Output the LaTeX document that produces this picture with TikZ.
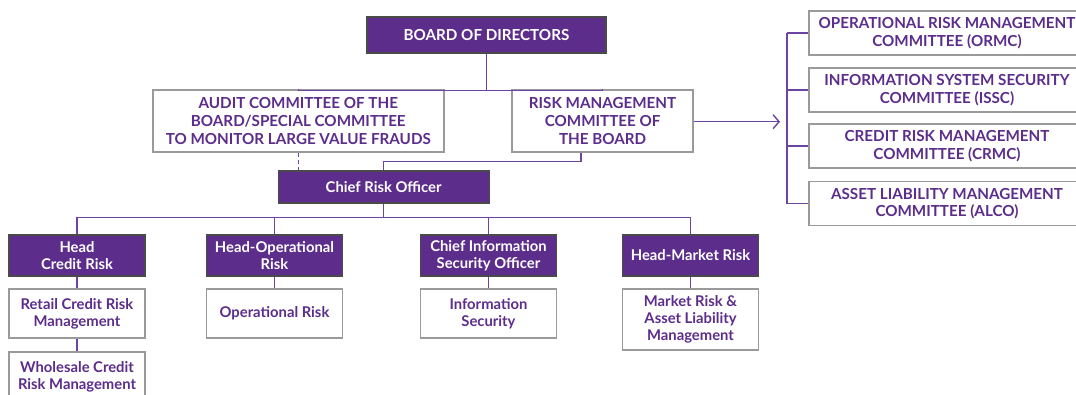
\documentclass[tikz,border=0pt]{standalone}
\usepackage{fontspec}
\setmainfont{Lato}
\usetikzlibrary{arrows.meta}
\definecolor{riskpurple}{HTML}{5C2D8B}
\definecolor{linkpurple}{HTML}{6E44A2}
\definecolor{framegray}{HTML}{9A9A9A}
\definecolor{darkframe}{HTML}{4A4A4A}
\tikzstyle{head}=[rectangle, draw=darkframe, fill=riskpurple
,text=white, font=\bfseries\fontsize{14.8}{17}\selectfont
,line width=1.2pt, align=center, inner sep=0pt
]
\tikzstyle{unit}=[rectangle, draw=framegray, fill=white
,text=riskpurple, font=\bfseries\fontsize{14.8}{16.7}\selectfont
,line width=1.5pt, align=center, inner sep=0pt
]
\tikzstyle{caps}=[font=\bfseries\fontsize{15.2}{17.6}\selectfont]
\tikzstyle{link} = [draw=linkpurple, line width=1.3pt]

\begin{document}
\begin{tikzpicture}[x=1pt, y=-1pt]
    \useasboundingbox (0,0) rectangle (1076,394);
    % Board and its two committees
    \node[head, caps, minimum width=239pt, minimum height=36pt] (board) at (486.5,35) {BOARD OF DIRECTORS};
    \node[unit, caps, minimum width=291pt, minimum height=62pt] (audit) at (298.3,121)
        {AUDIT COMMITTEE OF THE\\BOARD/SPECIAL COMMITTEE\\TO MONITOR LARGE VALUE FRAUDS};
    \node[unit, caps, minimum width=181pt, minimum height=62pt] (rmc) at (602.6,121)
        {RISK MANAGEMENT\\COMMITTEE OF\\THE BOARD};
    \node[head, minimum width=211pt, minimum height=32pt] (cro) at (383.6,187) {Chief Risk Officer};

    % Heads under the CRO
    \foreach \pos/\name/\text in {{(77,255.5)/hcr/Head\\Credit Risk}, {(274.5,255.5)/hor/Head-Operational\\Risk},
        {(488.5,255.5)/ciso/Chief Information\\Security Officer}, {(690.5,255.5)/hmr/Head-Market Risk}}
        \node[head, minimum width=136pt, minimum height=41pt] (\name) at \pos {\text};

    % Functions under each head
    \foreach \pos/\name/\text/\h in {{(77,313.5)/rcr/Retail Credit Risk\\Management/49}, {(77,376.5)/wcr/Wholesale Credit\\Risk Management/49},
        {(274.5,313.5)/opr/Operational Risk/49}, {(488.5,313.5)/isec/Information\\Security/49},
        {(690.5,319.5)/mrk/Market Risk \&\\Asset Liability\\Management/61}}
        \node[unit, minimum width=136pt, minimum height=\h pt] (\name) at \pos {\text};

    % Committees reporting to the RMC
    \foreach \pos/\name/\text in {{(947,33)/ormc/OPERATIONAL RISK MANAGEMENT\\COMMITTEE (ORMC)},
        {(947,90)/issc/INFORMATION SYSTEM SECURITY\\COMMITTEE (ISSC)},
        {(947,146)/crmc/CREDIT RISK MANAGEMENT\\COMMITTEE (CRMC)},
        {(947,203.5)/alco/ASSET LIABILITY MANAGEMENT\\COMMITTEE (ALCO)}}
        \node[unit, caps, minimum width=276pt, minimum height=44pt] (\name) at \pos {\text};

    \coordinate (bus) at (787,0);
    \coordinate (tip) at (780,121.7);

    % Connect boxes
    \path[link] (board.south) -- ++(0,36.7) -| (audit.north);
    \path[link] (board.south) -- ++(0,36.7) -| (rmc.north);
    \path[link] ([xshift=-21.5pt]rmc.south) -- ++(0,9) -| (cro.north);
    \path[link, dashed, dash pattern=on 4pt off 3pt] (audit.south) -- (audit.south |- cro.north);
    \foreach \dest in {hcr, hor, ciso, hmr}
        \path[link] (cro.south) -- ++(0,14) -| (\dest.north);
    \foreach \source/\dest in {hcr/rcr, rcr/wcr, hor/opr, ciso/isec, hmr/mrk}
        \path[link] (\source) -- (\dest);
    \path[link, -{Straight Barb[length=6pt, width=14pt, line width=1.4pt]}] (rmc.east |- tip) -- (tip);
    \path[link] (ormc.west -| bus) -- (alco.west -| bus);
    \foreach \dest in {ormc, issc, crmc, alco}
        \path[link] (\dest.west -| bus) -- (\dest.west);
\end{tikzpicture}
\end{document}
